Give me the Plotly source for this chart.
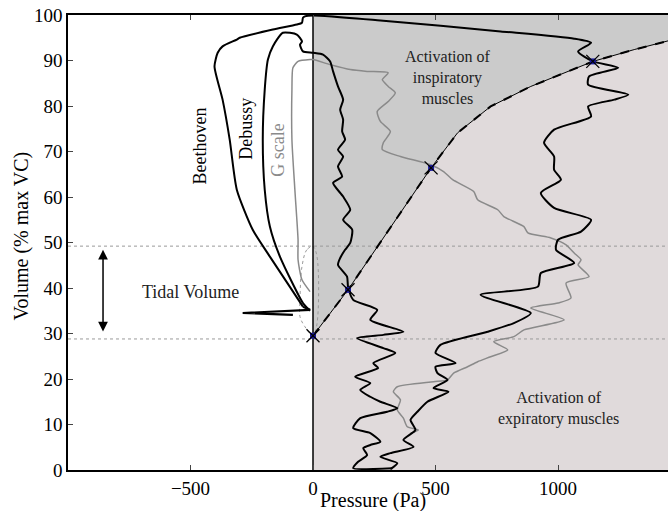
import plotly.graph_objects as go

# ---------------- data (Pressure in Pa, Volume in % max VC) ----------------
beethoven_p = [-82, -287, -12, -41, -176, -246, -311, -340, -369, -402,
               -389, -369, -311, -299, -164, -66, -45, -41, -33, 0,
               275, 766, 1066, 1135, 1082, 1143, 1246, 1127, 1123, 1287,
               1230, 1123, 1135, 984, 943, 984, 984, 1012, 930, 984,
               1135, 1094, 1000, 992, 1066, 930, 918, 684, 889, 820,
               713, 520, 500, 582, 500, 508, 549, 492, 553, 467,
               426, 398, 418, 369, 410, 316, 275, 344, 316]
beethoven_v = [34.1, 34.5, 35.2, 35.9, 46.9, 52.8, 61.6, 72.6, 81.4, 88.7,
               91.7, 93.1, 94.6, 95.0, 96.8, 97.9, 98.3, 99.4, 99.7, 99.9,
               98.8, 96.4, 94.8, 93.9, 92.0, 89.8, 88.4, 86.5, 84.7, 82.5,
               81.4, 79.9, 77.7, 74.8, 71.9, 68.9, 66.0, 63.8, 60.9, 57.6,
               55.0, 52.4, 50.6, 48.4, 45.5, 43.3, 40.3, 38.5, 34.5, 32.3,
               30.4, 27.5, 25.7, 23.5, 22.7, 21.3, 19.8, 18.0, 17.2, 15.0,
               12.8, 11.0, 8.8, 6.6, 5.1, 3.7, 2.9, 1.5, 0.2]

debussy_p = [-12, -41, -135, -176, -197, -205, -197, -184, -164, -123,
             -66, -45, -53, -41, 0, 41, 70, 82, 102, 123,
             111, 123, 119, 131, 102, 123, 102, 119, 82, 123,
             152, 123, 160, 152, 131, 111, 102, 139, 143, 164,
             262, 234, 369, 287, 180, 287, 336, 246, 266, 172,
             234, 193, 234, 275, 344, 303, 193, 164, 234, 275,
             234, 205, 221, 184, 164, 324]
debussy_v = [35.0, 36.7, 46.9, 53.5, 61.6, 72.6, 83.6, 90.2, 93.1, 96.1,
             95.7, 94.2, 93.5, 92.0, 91.7, 91.3, 89.8, 87.6, 84.3, 81.4,
             79.2, 77.0, 74.4, 72.6, 70.4, 68.9, 66.7, 64.5, 63.1, 60.1,
             57.2, 55.0, 52.8, 49.9, 48.4, 46.6, 45.1, 42.5, 40.3, 37.4,
             35.2, 33.0, 30.4, 29.7, 29.0, 26.8, 25.7, 23.5, 22.4, 20.5,
             19.1, 17.6, 16.1, 15.0, 13.6, 12.8, 11.4, 9.2, 8.1, 6.2,
             5.5, 4.8, 3.3, 1.8, 0.4, 0.4]

gscale_p = [-12, -45, -61, -61, -74, -86, -86, -82, -61, -12,
            0, 70, 152, 221, 307, 283, 307, 336, 307, 262,
            275, 316, 287, 283, 357, 480, 533, 570, 656, 672,
            754, 779, 861, 877, 971, 1033, 1066, 1094, 1082, 1127,
            1033, 1053, 1000, 889, 1025, 861, 820, 738, 795, 725,
            672, 631, 574, 549, 492, 344, 328, 357, 344, 369,
            385, 430, 398]
gscale_v = [39.2, 41.8, 46.2, 50.6, 61.6, 72.6, 83.6, 88.4, 89.8, 90.2,
            90.2, 89.1, 88.0, 87.6, 87.3, 85.8, 84.3, 82.9, 81.0, 78.8,
            76.6, 74.4, 71.9, 70.4, 68.9, 67.1, 65.6, 63.8, 61.2, 59.4,
            57.2, 55.7, 53.5, 52.1, 51.0, 49.5, 47.7, 46.2, 45.1, 42.5,
            41.1, 37.8, 36.7, 35.6, 33.0, 30.8, 29.3, 28.2, 26.4, 24.9,
            23.8, 22.7, 21.3, 19.8, 19.4, 18.3, 17.2, 15.4, 13.2, 11.4,
            9.5, 8.8, 8.1]

tidal_p = [0, -25, -45, -53, -53, -33, 0, 16, 16, 0]
tidal_v = [49.1, 48.4, 44.7, 37.4, 33.7, 31.5, 29.5, 32.0, 47.0, 49.1]

boundary_p = [0, 143, 482, 590, 725, 889, 1041, 1143, 1311, 1470]
boundary_v = [29.5, 39.6, 66.4, 74.1, 79.9, 84.3, 87.6, 89.8, 92.4, 94.6]

marker_p = [0, 143, 482, 1142]
marker_v = [29.5, 39.6, 66.4, 89.8]

tidal_band = [28.8, 49.2]
x_range = [-1000, 1449]
x_ticks = [-500, 0, 500, 1000]
y_ticks = list(range(0, 101, 10))

FONT = "Liberation Serif, Times New Roman, serif"
GRAY_FILL = "#cbcbcb"
PINK_FILL = "#e0dadb"

fig = go.Figure()

# shaded regions
fig.add_trace(go.Scatter(
    x=boundary_p + [boundary_p[-1], 0], y=boundary_v + [100, 100],
    fill="toself", fillcolor=GRAY_FILL, line=dict(width=0), mode="lines",
    hoverinfo="skip", showlegend=False))
fig.add_trace(go.Scatter(
    x=boundary_p + [boundary_p[-1], 0], y=boundary_v + [0, 0],
    fill="toself", fillcolor=PINK_FILL, line=dict(width=0), mode="lines",
    hoverinfo="skip", showlegend=False))

# dotted tidal volume limits
for v in tidal_band:
    fig.add_trace(go.Scatter(x=x_range, y=[v, v], mode="lines",
                             line=dict(color="#9a9a9a", width=1, dash="dot"),
                             showlegend=False, hoverinfo="skip"))

# tidal breathing loop
fig.add_trace(go.Scatter(x=tidal_p, y=tidal_v, mode="lines",
                         line=dict(color="#9a9a9a", width=1, dash="dot", shape="spline"),
                         showlegend=False))

# zero pressure line
fig.add_trace(go.Scatter(x=[0, 0], y=[0, 100], mode="lines",
                         line=dict(color="black", width=1.5), showlegend=False))

# boundary between regions
fig.add_trace(go.Scatter(x=boundary_p, y=boundary_v, mode="lines",
                         line=dict(color="black", width=1), showlegend=False))
fig.add_trace(go.Scatter(x=boundary_p, y=boundary_v, mode="lines",
                         line=dict(color="black", width=2, dash="dash"), showlegend=False))

# curves
fig.add_trace(go.Scatter(x=gscale_p, y=gscale_v, mode="lines",
                         line=dict(color="#8a8a8a", width=1.5, shape="spline", smoothing=0.6),
                         name="G scale", showlegend=False))
fig.add_trace(go.Scatter(x=debussy_p, y=debussy_v, mode="lines",
                         line=dict(color="black", width=2, shape="spline", smoothing=0.6),
                         name="Debussy", showlegend=False))
fig.add_trace(go.Scatter(x=beethoven_p[:4], y=beethoven_v[:4], mode="lines",
                         line=dict(color="black", width=2.2),
                         showlegend=False))
fig.add_trace(go.Scatter(x=beethoven_p[3:], y=beethoven_v[3:], mode="lines",
                         line=dict(color="black", width=2, shape="spline", smoothing=0.6),
                         name="Beethoven", showlegend=False))

# markers
fig.add_trace(go.Scatter(x=marker_p, y=marker_v, mode="markers",
                         marker=dict(symbol="square", size=6, color="#1a1aa0"),
                         showlegend=False))
fig.add_trace(go.Scatter(x=marker_p, y=marker_v, mode="markers",
                         marker=dict(symbol="x-thin", size=13,
                                     line=dict(color="black", width=1.3)),
                         showlegend=False))

annotations = [
    dict(x=551, y=86.2, text="Activation of<br>inspiratory<br>muscles",
         font=dict(size=16, color="#222")),
    dict(x=1004, y=13.6, text="Activation of<br>expiratory muscles",
         font=dict(size=16, color="#222")),
    dict(x=-502, y=39.2, text="Tidal Volume", font=dict(size=18, color="#222")),
    dict(x=-465, y=71.1, text="Beethoven", textangle=-90, font=dict(size=18, color="black")),
    dict(x=-273, y=75.0, text="Debussy", textangle=-90, font=dict(size=18, color="black")),
    dict(x=-143, y=70.4, text="G scale", textangle=-90, font=dict(size=18, color="#8a8a8a")),
]
for a in annotations:
    a.update(xref="x", yref="y", showarrow=False)
    a["font"]["family"] = FONT
    fig.add_annotation(**a)

# axis titles
fig.add_annotation(x=0.508, y=-0.066, xref="paper", yref="paper", showarrow=False,
                   text="Pressure (Pa)", font=dict(family=FONT, size=20, color="black"),
                   xanchor="center", yanchor="middle")
fig.add_annotation(x=-0.077, y=0.515, xref="paper", yref="paper", showarrow=False,
                   text="Volume (% max VC)", textangle=-90,
                   font=dict(family=FONT, size=20, color="black"),
                   xanchor="center", yanchor="middle")

# double-headed tidal volume arrow
fig.add_annotation(x=-857, y=48.4, ax=-857, ay=30.1, xref="x", yref="y",
                   axref="x", ayref="y", text="", showarrow=True,
                   arrowhead=2, startarrowhead=2, arrowside="end+start",
                   arrowsize=1.3, startarrowsize=1.3, arrowwidth=1.5, arrowcolor="black")

fig.update_layout(
    width=668, height=511,
    margin=dict(l=68, r=0, t=15, b=41, autoexpand=False),
    paper_bgcolor="white", plot_bgcolor="white",
    font=dict(family=FONT, size=19, color="black"),
    showlegend=False,
    xaxis=dict(range=x_range, tickvals=x_ticks, ticks="inside", ticklen=5,
               showline=True, linecolor="black", linewidth=1.5, mirror="ticks",
               showgrid=False, zeroline=False, automargin=False,
               tickfont=dict(size=19)),
    yaxis=dict(range=[0, 100], tickvals=y_ticks, ticks="inside", ticklen=5,
               showline=True, linecolor="black", linewidth=1.5,
               showgrid=False, zeroline=False, automargin=False,
               tickfont=dict(size=19)),
)

fig.write_html("out.html", config={"displayModeBar": False},
               post_script="document.body.style.margin='0';document.body.style.overflow='hidden';")
